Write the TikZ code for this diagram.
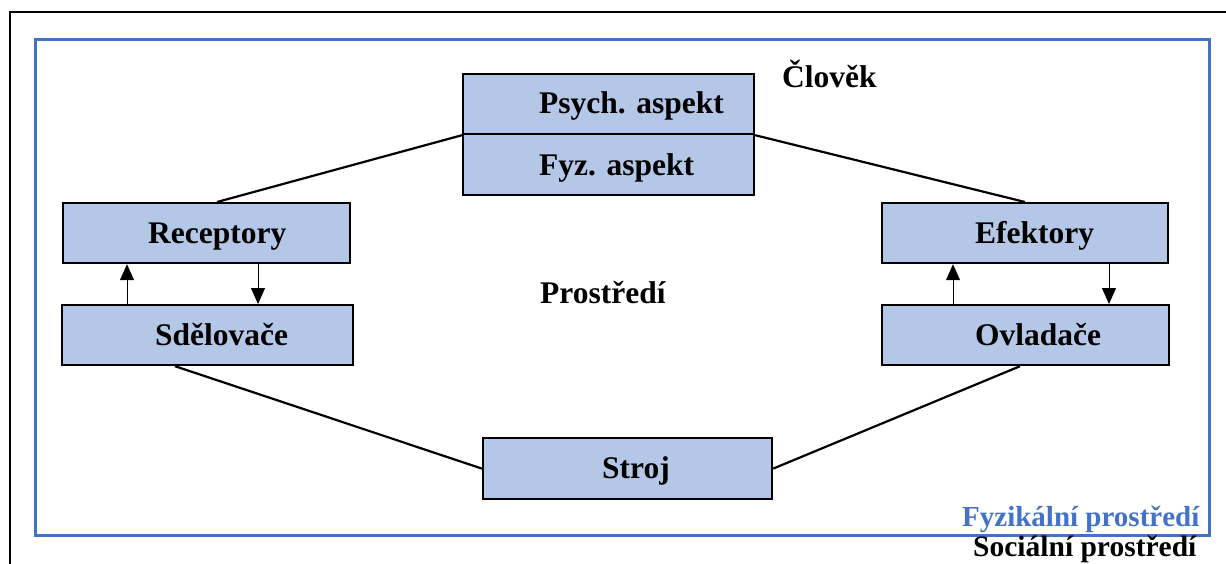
\documentclass[tikz,border=0pt]{standalone}
\usepackage{fontspec}
\setmainfont{Liberation Serif}
\usetikzlibrary{arrows.meta}
\definecolor{boxfill}{HTML}{B4C7E7}
\definecolor{frameblue}{HTML}{4472C4}
\begin{document}
\begin{tikzpicture}[x=1pt,y=-1pt,
  box/.style={draw=black, line width=2.2pt, fill=boxfill, rectangle, inner sep=0pt, anchor=north west},
  lbl/.style={font=\fontsize{31.5}{36}\selectfont\bfseries, anchor=base west, inner sep=0pt},
  conn/.style={line width=2.2pt},
  flow/.style={line width=1pt, -{Triangle[length=16pt,width=14pt]}}]
\useasboundingbox (0,0) rectangle (1226,563);
\clip (0,0) rectangle (1226,563);
% frames
\draw[line width=2.5pt, black] (10,12) rectangle (1250,620);
\draw[line width=3pt, frameblue] (35,39) rectangle (1209,535);
% boxes
\node[box, minimum width=291pt, minimum height=60pt] (psych) at (462,73) {};
\node[box, minimum width=291pt, minimum height=61pt] (fyz) at (462,133) {};
\node[box, minimum width=287pt, minimum height=60pt] (rec) at (62,202) {};
\node[box, minimum width=291pt, minimum height=60pt] (sdel) at (61,304) {};
\node[box, minimum width=286pt, minimum height=60pt] (efe) at (881,202) {};
\node[box, minimum width=287pt, minimum height=60pt] (ovl) at (881,304) {};
\node[box, minimum width=289pt, minimum height=61pt] (stroj) at (482,437) {};
% connectors
\draw[conn] (psych.south west) -- ([xshift=155pt]rec.north west);
\draw[conn] (psych.south east) -- ([xshift=144pt]efe.north west);
\draw[conn] ([xshift=114pt]sdel.south west) -- (stroj.west);
\draw[conn] (stroj.east) -- ([xshift=139pt]ovl.south west);
% arrows
\coordinate (a1) at ([xshift=66pt]sdel.north west);
\coordinate (a2) at ([xshift=196pt]rec.south west);
\coordinate (a3) at ([xshift=72pt]ovl.north west);
\coordinate (a4) at ([xshift=228pt]efe.south west);
\draw[flow] (a1) -- (a1 |- rec.south);
\draw[flow] (a2) -- (a2 |- sdel.north);
\draw[flow] (a3) -- (a3 |- efe.south);
\draw[flow] (a4) -- (a4 |- ovl.north);
% labels
\node[lbl] (t-psych) at (539,113) {Psych. aspekt};
\node[lbl] (t-fyz) at (539,175) {Fyz. aspekt};
\node[lbl] (t-rec) at (148,243) {Receptory};
\node[lbl] (t-sdel) at (155,345) {Sdělovače};
\node[lbl] (t-efe) at (975,243) {Efektory};
\node[lbl] (t-ovl) at (975,345) {Ovladače};
\node[lbl] (t-stroj) at (602,478) {Stroj};
\node[lbl] (t-clovek) at (782,87) {Člověk};
\node[lbl] (t-prostredi) at (540,303) {Prostředí};
\node[lbl, font=\fontsize{29}{34}\selectfont\bfseries, text=frameblue] (t-fyzprost) at (962,526) {Fyzikální prostředí};
\node[lbl, font=\fontsize{29.5}{34}\selectfont\bfseries] (t-socprost) at (973,556) {Sociální prostředí};
\end{tikzpicture}
\end{document}
